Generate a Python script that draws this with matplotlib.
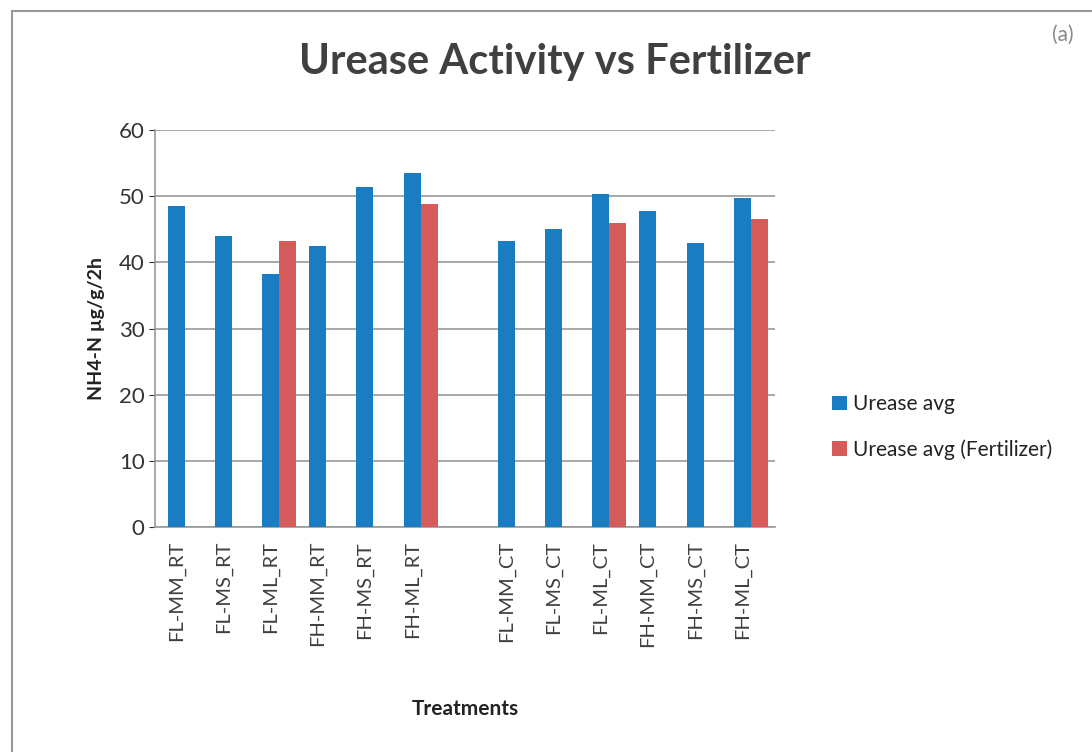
import numpy as np
import matplotlib
matplotlib.use("Agg")
import matplotlib.pyplot as plt
from matplotlib.patches import Rectangle

plt.rcParams["font.family"] = ["Lato", "DejaVu Sans"]

treatments = ["FL-MM_RT", "FL-MS_RT", "FL-ML_RT", "FH-MM_RT", "FH-MS_RT", "FH-ML_RT", "",
              "FL-MM_CT", "FL-MS_CT", "FL-ML_CT", "FH-MM_CT", "FH-MS_CT", "FH-ML_CT"]
urease_avg = [48.5, 44.0, 38.3, 42.5, 51.4, 53.5, np.nan,
              43.2, 45.0, 50.3, 47.7, 43.0, 49.7]
urease_fert = [np.nan, np.nan, 43.2, np.nan, np.nan, 48.8, np.nan,
               np.nan, np.nan, 46.0, np.nan, np.nan, 46.5]

blue = "#1a7cc1"
red = "#d65b5b"
grey = "#404040"

fig = plt.figure(figsize=(10.92, 7.52), dpi=100)
ax = fig.add_axes([0.142, 0.299, 0.568, 0.528])

x = np.arange(len(treatments))
w = 0.36
ax.bar(x, urease_avg, w, color=blue, label="Urease avg", zorder=3)
ax.bar(x + w, urease_fert, w, color=red, label="Urease avg (Fertilizer)", zorder=3)

ax.set_xlim(-0.45, len(treatments) - 0.3)
ax.set_ylim(0, 60)
ax.set_yticks(range(0, 61, 10))
ax.yaxis.grid(True, color="#9a9a9a", linewidth=1.2, zorder=0)
ax.set_xticks(x)
ax.set_xticklabels(treatments, rotation=90, fontsize=14.5, color=grey)
ax.tick_params(axis="y", labelsize=16, colors="#333333", length=4)
ax.tick_params(axis="x", length=0, pad=10)
for s in ["right", "top"]:
    ax.spines[s].set_visible(False)
for s in ["left", "bottom"]:
    ax.spines[s].set_color("#9a9a9a")
    ax.spines[s].set_linewidth(1.2)

ax.set_ylabel("NH4-N µg/g/2h", fontsize=14, fontweight="bold", color="#222222", labelpad=10)
ax.set_xlabel("Treatments", fontsize=15, fontweight="bold", color="#222222", labelpad=37)

fig.text(0.508, 0.917, "Urease Activity vs Fertilizer", ha="center", va="center",
         fontsize=30, fontweight="bold", color=grey)
fig.text(0.973, 0.953, "(a)", ha="center", va="center", fontsize=15, color="#888888")

leg = fig.legend(loc="center left", bbox_to_anchor=(0.745, 0.432), frameon=False,
                 fontsize=15, handlelength=0.7, handleheight=0.7, labelspacing=1.2,
                 handletextpad=0.3)
for t in leg.get_texts():
    t.set_color("#222222")

fig.patches.append(Rectangle((0.011, -0.01), 1.0, 0.995, transform=fig.transFigure,
                             fill=False, edgecolor="#999999", linewidth=1.5))

fig.savefig("out.png", dpi=100)
